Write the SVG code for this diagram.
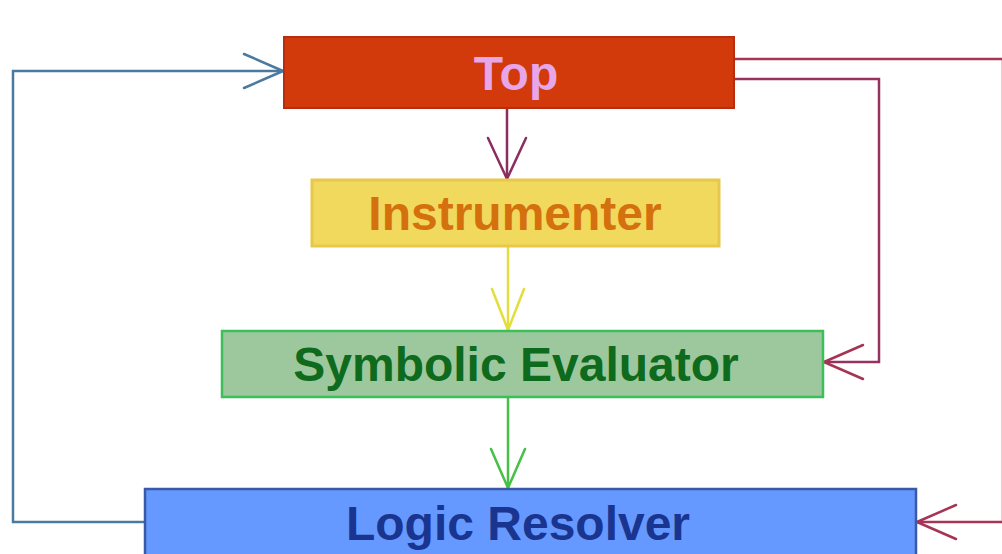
<svg xmlns="http://www.w3.org/2000/svg" width="1002" height="554" viewBox="0 0 1002 554">
  <style>
    .lbl { font-family: "Liberation Sans", Arial, sans-serif; font-weight: bold; font-size: 48px; text-anchor: middle; }
    .wire { fill: none; stroke-width: 2.5; stroke-linejoin: miter; }
    .head { fill: none; stroke-width: 2.5; stroke-linecap: round; stroke-linejoin: round; }
  </style>
  <defs>
    <marker id="arr-blue" markerUnits="userSpaceOnUse" viewBox="-42 -20 44 40" markerWidth="44" markerHeight="40" refX="0" refY="0" orient="auto">
      <path class="head" d="M-39,-17 L0,0 L-39,17" stroke="#4a7aa0"/>
    </marker>
    <marker id="arr-crimson" markerUnits="userSpaceOnUse" viewBox="-42 -20 44 40" markerWidth="44" markerHeight="40" refX="0" refY="0" orient="auto">
      <path class="head" d="M-39,-17 L0,0 L-39,17" stroke="#a63555"/>
    </marker>
    <marker id="arr-plum" markerUnits="userSpaceOnUse" viewBox="-44 -22 46 44" markerWidth="46" markerHeight="44" refX="0" refY="0" orient="auto">
      <path class="head" d="M-41,-19 L0,0 L-41,19" stroke="#8b2d5e"/>
    </marker>
    <marker id="arr-yellow" markerUnits="userSpaceOnUse" viewBox="-44 -22 46 44" markerWidth="46" markerHeight="44" refX="0" refY="0" orient="auto">
      <path class="head" d="M-41,-16 L0,0 L-41,16" stroke="#e2df3c"/>
    </marker>
    <marker id="arr-green" markerUnits="userSpaceOnUse" viewBox="-44 -22 46 44" markerWidth="46" markerHeight="44" refX="0" refY="0" orient="auto">
      <path class="head" d="M-39,-17 L0,0 L-39,17" stroke="#46c046"/>
    </marker>
  </defs>

  <rect width="1002" height="554" fill="#ffffff"/>

  <g id="connectors">
    <!-- Logic Resolver back up to Top -->
    <path class="wire" d="M145,522 H13 V71 H283" stroke="#4a7aa0" marker-end="url(#arr-blue)"/>
    <!-- Top around the right edge to Logic Resolver -->
    <path class="wire" d="M734,59 H1003 V522 H917" stroke="#a63555" marker-end="url(#arr-crimson)"/>
    <!-- Top to Symbolic Evaluator -->
    <path class="wire" d="M734,79 H879 V362 H824" stroke="#963260" marker-end="url(#arr-crimson)"/>
    <!-- Straight chain down the middle -->
    <path class="wire" d="M507,108 V179" stroke="#8b2d5e" marker-end="url(#arr-plum)"/>
    <path class="wire" d="M508,246 V330" stroke="#e2df3c" marker-end="url(#arr-yellow)"/>
    <path class="wire" d="M508,397 V488" stroke="#46c046" marker-end="url(#arr-green)"/>
  </g>

  <g id="top">
    <rect x="284" y="37" width="450" height="71" fill="#d33a0b" stroke="#b82c12" stroke-width="2"/>
    <text class="lbl" x="516" y="90" fill="#e6a6e8">Top</text>
  </g>

  <g id="instrumenter">
    <rect x="312" y="180" width="407" height="66" fill="#f0d95c" stroke="#e8c84a" stroke-width="3"/>
    <text class="lbl" x="515" y="230" fill="#d5700e">Instrumenter</text>
  </g>

  <g id="symbolic-evaluator">
    <rect x="222" y="331" width="601" height="66" fill="#9dc89d" stroke="#3cbf5a" stroke-width="2.5"/>
    <text class="lbl" x="516" y="381" fill="#0e6a1c">Symbolic Evaluator</text>
  </g>

  <g id="logic-resolver">
    <rect x="145" y="489" width="771" height="70" fill="#6699ff" stroke="#3a5aa8" stroke-width="2.5"/>
    <text class="lbl" x="518" y="540" fill="#1a3590">Logic Resolver</text>
  </g>
</svg>
